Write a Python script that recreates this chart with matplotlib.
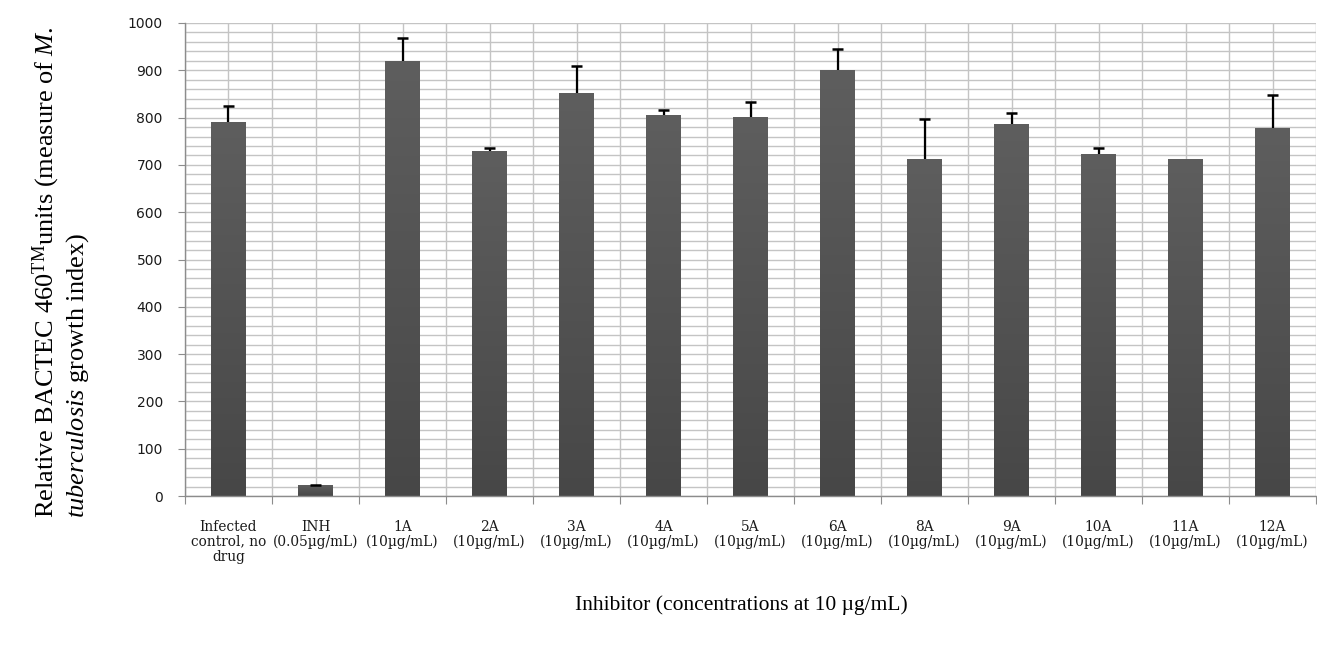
import numpy as np
import matplotlib
matplotlib.use("Agg")
import matplotlib.pyplot as plt
from matplotlib.colors import LinearSegmentedColormap

# Growth index per treatment, with upper error (standard deviation)
categories = ["Infected\ncontrol, no\ndrug", "INH\n(0.05µg/mL)", "1A\n(10µg/mL)",
              "2A\n(10µg/mL)", "3A\n(10µg/mL)", "4A\n(10µg/mL)", "5A\n(10µg/mL)",
              "6A\n(10µg/mL)", "8A\n(10µg/mL)", "9A\n(10µg/mL)", "10A\n(10µg/mL)",
              "11A\n(10µg/mL)", "12A\n(10µg/mL)"]
values = [791, 23, 919, 729, 852, 806, 802, 900, 712, 786, 724, 713, 778]
errors = [33, 1, 50, 6, 58, 11, 31, 46, 86, 23, 11, 0, 70]
y_ticks = [0, 100, 200, 300, 400, 500, 600, 700, 800, 900, 1000]

plt.rcParams['mathtext.fontset'] = 'custom'
plt.rcParams['mathtext.rm'] = 'Liberation Serif'
plt.rcParams['mathtext.it'] = 'Liberation Serif:italic'

fig = plt.figure(figsize=(13.17, 6.46), dpi=100)
ax = fig.add_axes([185 / 1317, 1 - 496 / 646, 1131 / 1317, (496 - 23) / 646])

x = np.arange(len(categories))
width = 0.4
grid_c = "#c4c4c4"
axis_c = "#8c8c8c"

# Dense grid: horizontal every 20 units, vertical at centres and boundaries
ax.set_ylim(0, 1000)
ax.set_xlim(-0.5, len(categories) - 0.5)
for yv in np.arange(0, 1001, 20):
    ax.axhline(yv, color=grid_c, lw=1.0, zorder=0)
for xv in np.arange(-0.5, len(categories), 0.5):
    ax.axvline(xv, color=grid_c, lw=1.0, zorder=0)

bars = ax.bar(x, values, width=width, color="#555555", zorder=2)

# Vertical shading inside each bar
cmap = LinearSegmentedColormap.from_list("shade", ["#474747", "#5e5e5e"])
grad = np.linspace(0, 1, 256).reshape(-1, 1)
for b in bars:
    x0, w, h = b.get_x(), b.get_width(), b.get_height()
    im = ax.imshow(grad, extent=(x0, x0 + w, 0, h), origin="lower", cmap=cmap,
                   aspect="auto", zorder=3, interpolation="bicubic")
    im.set_clip_path(b)
ax.set_aspect("auto")

# Upper-only error bars with caps
cap = 0.06
for xi, v, e in zip(x, values, errors):
    if e > 0:
        ax.vlines(xi, v, v + e, color="black", lw=1.6, zorder=4)
        ax.hlines(v + e, xi - cap, xi + cap, color="black", lw=1.8, zorder=4)

# Axes styling
for side in ["top", "right"]:
    ax.spines[side].set_visible(False)
for side in ["left", "bottom"]:
    ax.spines[side].set_color(axis_c)
    ax.spines[side].set_linewidth(1.0)
    ax.spines[side].set_zorder(5)

ax.set_yticks(y_ticks)
ax.set_yticklabels([str(v) for v in y_ticks], family="DejaVu Sans", fontsize=10,
                   color="#1a1a1a")
ax.tick_params(axis="y", length=5, color=axis_c, pad=11)

ax.set_xticks(np.arange(-0.5, len(categories), 1.0))
ax.set_xticklabels([])
ax.tick_params(axis="x", which="major", length=6, color=axis_c)
ax.set_xticks(x, minor=True)
ax.set_xticklabels(categories, minor=True, family="DejaVu Serif", fontsize=9.9,
                   linespacing=1.1, color="#1a1a1a")
ax.tick_params(axis="x", which="minor", length=0, pad=17)

fig.text(741 / 1317, 1 - 605 / 646, "Inhibitor (concentrations at 10 µg/mL)",
         ha="center", va="center", family="Liberation Serif", fontsize=15.5)

fig.text(46 / 1317, 1 - 518 / 646,
         r"Relative BACTEC 460$^{\mathrm{TM}}$units (measure of $\mathit{M.}$",
         rotation=90, ha="center", va="bottom", family="Liberation Serif", fontsize=19)
fig.text(78 / 1317, 1 - 518 / 646,
         r"$\mathit{tuberculosis}$ growth index)",
         rotation=90, ha="center", va="bottom", family="Liberation Serif", fontsize=19)

fig.savefig("out.png", dpi=100, facecolor="white")
